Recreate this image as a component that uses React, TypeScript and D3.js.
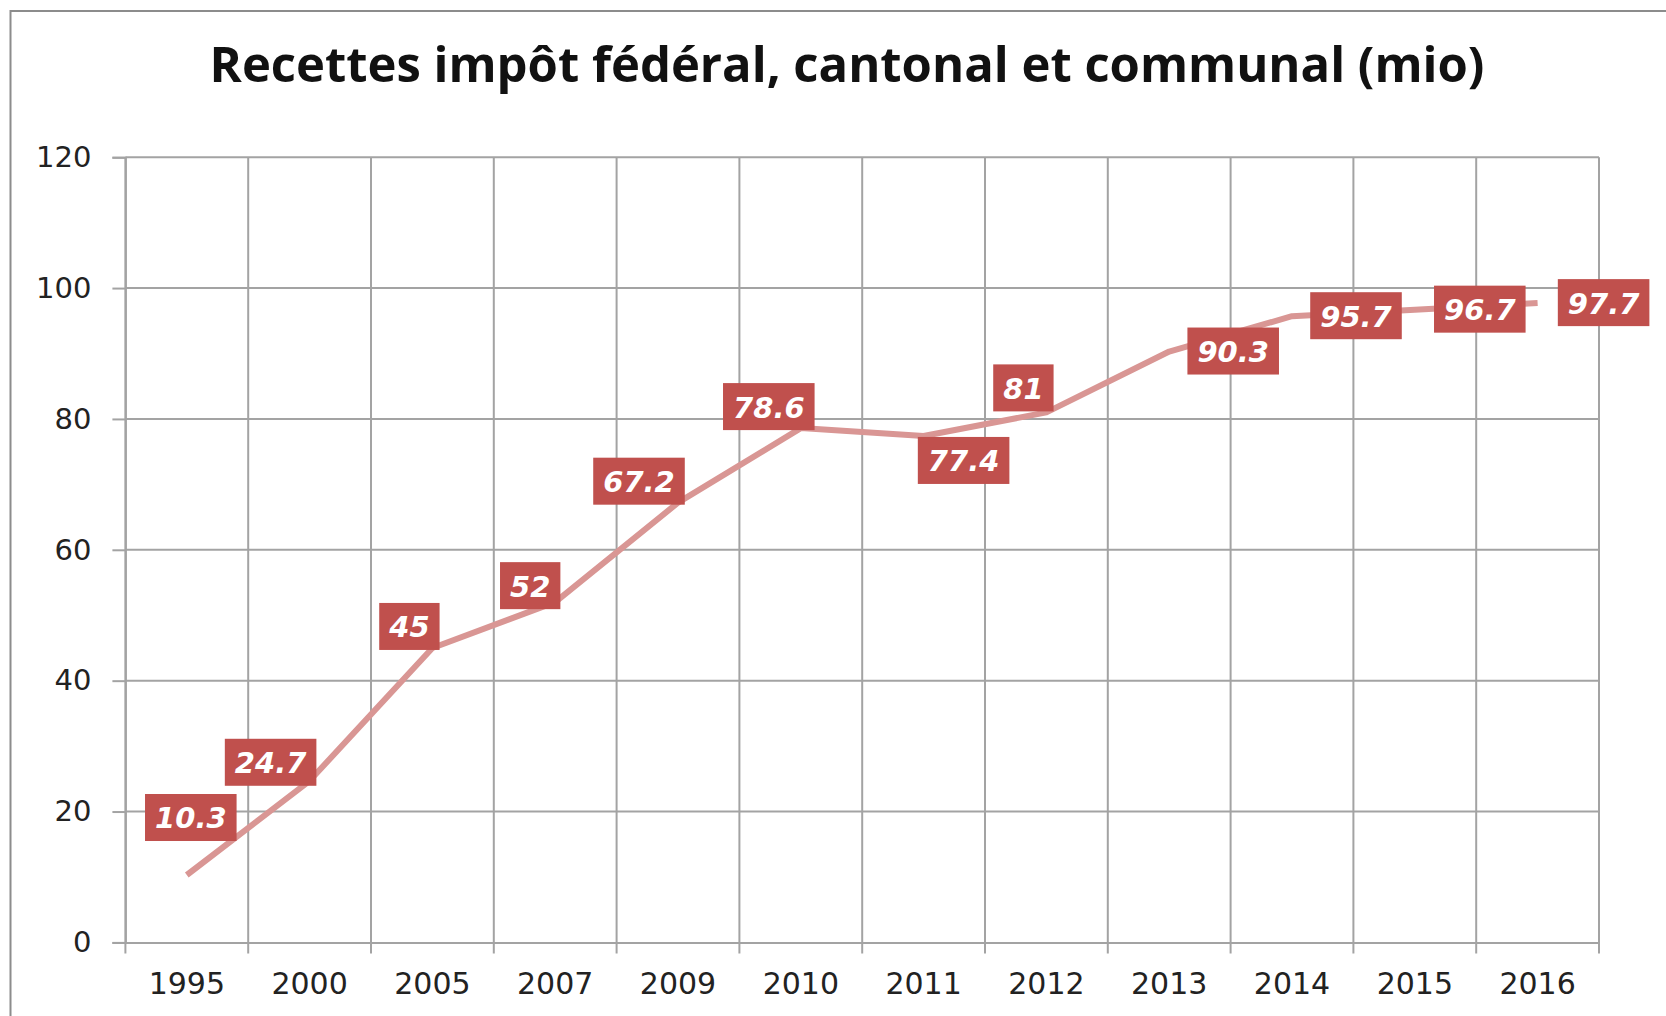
import * as d3 from 'd3'
import {useRef, useEffect} from 'react'

// years and tax receipts (mio)
const years: string[] = ['1995', '2000', '2005', '2007', '2009', '2010', '2011', '2012', '2013', '2014', '2015', '2016']
const receipts: number[] = [10.3, 24.7, 45, 52, 67.2, 78.6, 77.4, 81, 90.3, 95.7, 96.7, 97.7]
const yTicks: number[] = [0, 20, 40, 60, 80, 100, 120]

// manual label placement (offset of box centre from its point, px)
const labelDx: number[] = [4, -39, -23, -25, -39, -32, 40, -23, 64, 64, 65, 66]
const labelDy: number[] = [-57, -18, -21, -16, -21, -21, 25, -24, 0, 0, 0, 0]

const title = 'Recettes impôt fédéral, cantonal et communal (mio)'

const App = () => {
  const svgRef = useRef<SVGSVGElement>(null)

  const width = 1666
  const height = 1016
  const margin = {left: 125.4, right: 67, top: 157.2, bottom: 73.6}

  const draw = (): void => {
    const svg = d3.select(svgRef.current)
    svg.selectAll('*').remove()

    const x = d3.scaleBand<string>()
      .domain(years)
      .range([margin.left, width - margin.right])
      .padding(0)
    const y = d3.scaleLinear()
      .domain([0, 120])
      .range([height - margin.bottom, margin.top])

    const grid = '#a3a3a3'

    // outer frame
    svg.append('rect')
      .attr('x', 10.5).attr('y', 11)
      .attr('width', width + 20).attr('height', height + 20)
      .attr('fill', 'white')
      .attr('stroke', '#8c8c8c')
      .attr('stroke-width', 2)

    svg.append('text')
      .attr('x', 847).attr('y', 82)
      .attr('text-anchor', 'middle')
      .attr('font-family', '"Open Sans", sans-serif')
      .attr('font-weight', 700)
      .attr('font-size', 49)
      .attr('fill', '#111')
      .text(title)

    // horizontal gridlines + y axis
    const yAxis = d3.axisLeft(y)
      .tickValues(yTicks)
      .tickSize(13)
      .tickPadding(21)
    const gy = svg.append('g')
      .attr('transform', `translate(${margin.left},0)`)
      .call(yAxis)
    gy.select('.domain').attr('stroke', grid).attr('stroke-width', 2)
    gy.selectAll('.tick line').attr('stroke', grid).attr('stroke-width', 2)
    gy.selectAll('.tick text')
      .attr('font-family', '"DejaVu Sans", sans-serif')
      .attr('font-size', 29)
      .attr('fill', '#222')
    svg.append('g')
      .selectAll('line')
      .data(yTicks.filter(t => t > 0))
      .enter()
      .append('line')
      .attr('x1', margin.left).attr('x2', width - margin.right)
      .attr('y1', d => y(d)).attr('y2', d => y(d))
      .attr('stroke', grid).attr('stroke-width', 2)

    // vertical gridlines at band edges
    const edges = years.map(d => x(d)!).concat([width - margin.right])
    svg.append('g')
      .selectAll('line')
      .data(edges)
      .enter()
      .append('line')
      .attr('x1', d => d).attr('x2', d => d)
      .attr('y1', margin.top).attr('y2', height - margin.bottom + 11)
      .attr('stroke', grid).attr('stroke-width', 2)

    // x axis
    const gx = svg.append('g')
      .attr('transform', `translate(0,${height - margin.bottom})`)
      .call(d3.axisBottom(x).tickSize(0).tickPadding(30))
    gx.select('.domain').attr('stroke', grid).attr('stroke-width', 2)
    gx.selectAll('.tick text')
      .attr('font-family', '"DejaVu Sans", sans-serif')
      .attr('font-size', 30)
      .attr('fill', '#222')

    const cx = (d: string) => x(d)! + x.bandwidth() / 2

    const line = d3.line<number>()
      .x((d, i) => cx(years[i]))
      .y(d => y(d))
    svg.append('path')
      .datum(receipts)
      .attr('d', line)
      .attr('fill', 'none')
      .attr('stroke', '#d99694')
      .attr('stroke-width', 6)
      .attr('stroke-linejoin', 'round')

    // data labels
    const labels = svg.append('g')
      .selectAll('g')
      .data(receipts)
      .enter()
      .append('g')
      .attr('transform', (d, i) => `translate(${cx(years[i]) + labelDx[i]},${y(d) + labelDy[i]})`)
    const rects = labels.append('rect').attr('fill', '#c0504d')
    const texts = labels.append('text')
      .attr('text-anchor', 'middle')
      .attr('dy', '0.36em')
      .attr('font-family', '"DejaVu Sans", sans-serif')
      .attr('font-weight', 700)
      .attr('font-style', 'italic')
      .attr('font-size', 29)
      .attr('fill', 'white')
      .text(d => String(d))
    texts.each(function (d, i) {
      const w = (this as SVGTextElement).getComputedTextLength() + 20
      d3.select(rects.nodes()[i])
        .attr('x', -w / 2).attr('y', -24)
        .attr('width', w).attr('height', 47)
    })
  }

  useEffect((): void => draw(), [])

  return (
    <svg ref={svgRef} width={width} height={height}
      style={{position: 'absolute', left: 0, top: 0, background: 'white'}} />
  )
}

export default App
